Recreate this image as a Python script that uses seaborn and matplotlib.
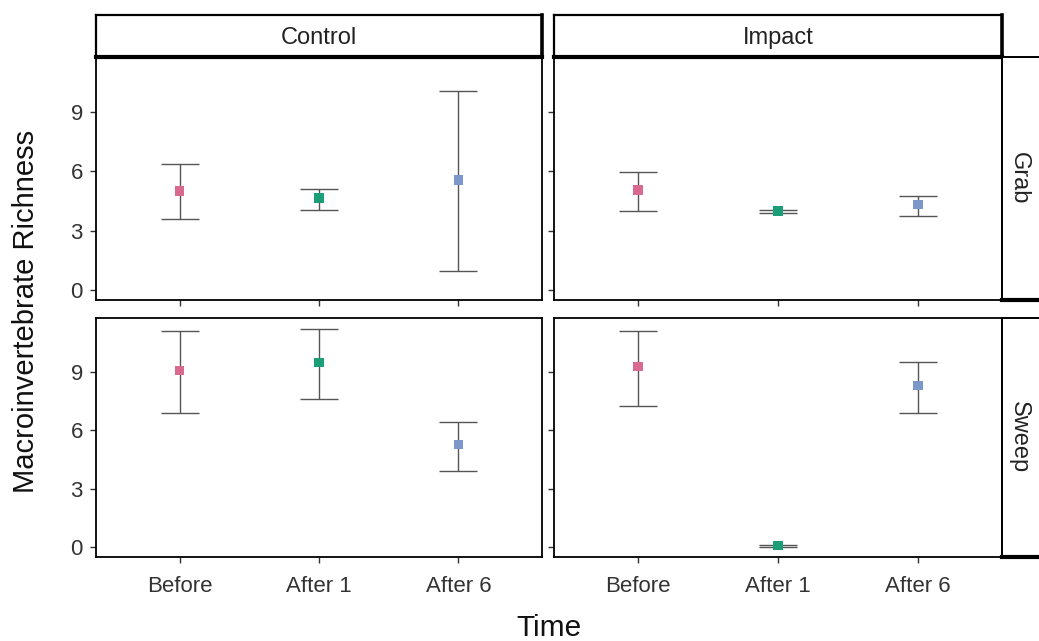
import pandas as pd
import numpy as np
import matplotlib
matplotlib.use("Agg")
import matplotlib.pyplot as plt
import seaborn as sns

# ---- data ----
sites = ["Control", "Impact"]
methods = ["Grab", "Sweep"]
times = ["Before", "After 1", "After 6"]

# mean, lower, upper per (method, site) in time order
grab_control_mean = [5.0, 4.63, 5.56]
grab_control_low = [3.6, 4.02, 0.98]
grab_control_high = [6.35, 5.12, 10.03]

grab_impact_mean = [5.05, 3.98, 4.32]
grab_impact_low = [4.0, 3.9, 3.73]
grab_impact_high = [5.96, 4.06, 4.75]

sweep_control_mean = [9.05, 9.47, 5.26]
sweep_control_low = [6.86, 7.58, 3.91]
sweep_control_high = [11.1, 11.2, 6.44]

sweep_impact_mean = [9.27, 0.08, 8.29]
sweep_impact_low = [7.26, 0.02, 6.86]
sweep_impact_high = [11.1, 0.14, 9.49]

colors = {"Before": "#d9698e", "After 1": "#1b9e77", "After 6": "#7b98c9"}

rows = []
blocks = {
    ("Grab", "Control"): (grab_control_mean, grab_control_low, grab_control_high),
    ("Grab", "Impact"): (grab_impact_mean, grab_impact_low, grab_impact_high),
    ("Sweep", "Control"): (sweep_control_mean, sweep_control_low, sweep_control_high),
    ("Sweep", "Impact"): (sweep_impact_mean, sweep_impact_low, sweep_impact_high),
}
for (m, s), (mu, lo, hi) in blocks.items():
    for t, a, b, c in zip(times, mu, lo, hi):
        rows.append({"Method": m, "Site": s, "Time": t, "Richness": a, "low": b, "high": c})
df = pd.DataFrame(rows)
df["Time"] = pd.Categorical(df["Time"], categories=times, ordered=True)

sns.set_theme(style="white")
plt.rcParams["font.family"] = ["Liberation Sans", "DejaVu Sans"]

W, H = 1039, 641
fig = plt.figure(figsize=(W / 100, H / 100), dpi=100)

def fx(px):
    return px / W

def fy(py):
    return 1 - py / H

col_x = [(96, 542), (554, 1002)]
row_y = [(57, 300), (318, 557)]

for i, m in enumerate(methods):
    for j, s in enumerate(sites):
        x0, x1 = col_x[j]
        y0, y1 = row_y[i]
        ax = fig.add_axes([fx(x0), fy(y1), fx(x1 - x0), (y1 - y0) / H])
        sub = df[(df["Method"] == m) & (df["Site"] == s)].reset_index(drop=True)
        xpos = np.arange(len(sub))
        for k, r in sub.iterrows():
            ax.errorbar(k, r["Richness"],
                        yerr=[[r["Richness"] - r["low"]], [r["high"] - r["Richness"]]],
                        fmt="none", ecolor="#555555", elinewidth=1.0, capsize=13.5,
                        capthick=1.0, zorder=2)
        sns.scatterplot(data=sub, x=xpos, y="Richness", hue="Time", palette=colors,
                        marker="s", s=48, edgecolor="none", legend=False, ax=ax, zorder=3)
        ax.set_xlim(-0.6, 2.6)
        ax.set_ylim(-0.5, 11.75)
        ax.set_xticks(xpos)
        ax.set_yticks([0, 3, 6, 9])
        ax.set_xlabel("")
        ax.set_ylabel("")
        for sp in ax.spines.values():
            sp.set_color("black")
            sp.set_linewidth(1.3)
        ax.tick_params(axis="both", which="both", length=4.5, width=1, color="#333333",
                       labelsize=16, labelcolor="#333333", bottom=True, left=True)
        ax.tick_params(axis="x", pad=9)
        ax.tick_params(axis="y", pad=5)
        if i == 0:
            ax.set_xticklabels([])
        else:
            ax.set_xticklabels(times)
        if j == 1:
            ax.set_yticklabels([])

# column strips
for j, s in enumerate(sites):
    x0, x1 = col_x[j]
    sax = fig.add_axes([fx(x0), fy(57), fx(x1 - x0), 42 / H])
    sax.set_xticks([])
    sax.set_yticks([])
    for sp in sax.spines.values():
        sp.set_color("black")
        sp.set_linewidth(1.6)
    sax.spines["bottom"].set_linewidth(3)
    sax.spines["right"].set_linewidth(2.6)
    sax.text(0.5, 0.45, s, ha="center", va="center", fontsize=17, color="#222222",
             transform=sax.transAxes)

# row strips (cut at right edge)
for i, m in enumerate(methods):
    y0, y1 = row_y[i]
    rax = fig.add_axes([fx(1002), fy(y1), fx(60), (y1 - y0) / H])
    rax.set_xticks([])
    rax.set_yticks([])
    for sp in rax.spines.values():
        sp.set_color("black")
        sp.set_linewidth(1.4)
    rax.spines["bottom"].set_linewidth(3)
    rax.text(17 / 60, 0.5, m, ha="center", va="center", rotation=-90, fontsize=17,
             color="#222222", transform=rax.transAxes)

fig.text(fx(549), fy(628), "Time", ha="center", va="center", fontsize=21.5, color="#111111")
fig.text(fx(26), fy(311), "Macroinvertebrate Richness", ha="center", va="center",
         rotation=90, fontsize=21, color="#111111")

fig.savefig("out.png", dpi=100)
